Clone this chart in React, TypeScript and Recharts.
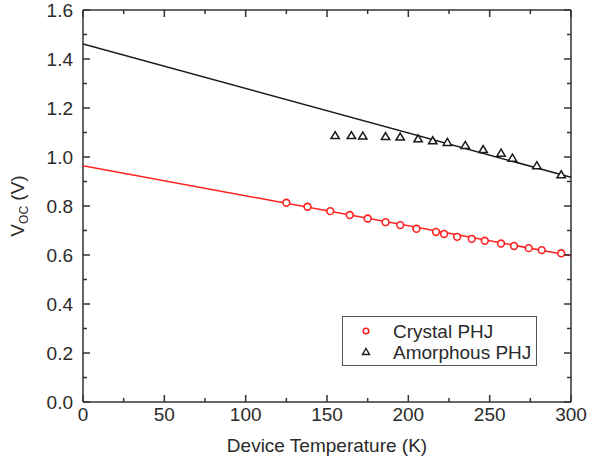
import React from "react";
import { ComposedChart, Scatter, XAxis, YAxis } from "recharts";

// Crystal PHJ (red circles)
const crystalT = [125, 138, 152, 164, 175, 186, 195, 205, 217, 222, 230, 239, 247, 257, 265, 274, 282, 294];
const crystalVoc = [0.813, 0.797, 0.779, 0.763, 0.749, 0.734, 0.722, 0.707, 0.694, 0.686, 0.674, 0.666, 0.658, 0.647, 0.637, 0.628, 0.62, 0.607];

// Amorphous PHJ (black triangles)
const amorphousT = [155, 165, 172, 186, 195, 206, 215, 224, 235, 246, 257, 264, 279, 294];
const amorphousVoc = [1.089, 1.089, 1.087, 1.085, 1.083, 1.076, 1.068, 1.061, 1.049, 1.032, 1.017, 0.997, 0.966, 0.929];

// linear fits
const fitT = [0, 300];
const crystalFit = [0.964, 0.597];
const amorphousFit = [1.461, 0.917];

const xMajorTicks = [0, 50, 100, 150, 200, 250, 300];
const xMinorTicks = [25, 75, 125, 175, 225, 275];
const yMajorTicks = [0, 0.2, 0.4, 0.6, 0.8, 1.0, 1.2, 1.4, 1.6];
const yMinorTicks = [0.1, 0.3, 0.5, 0.7, 0.9, 1.1, 1.3, 1.5];

const RED = "#ff2020";
const DARK = "#1a1a1a";
const AXIS = "#333";
const FONT = "'Liberation Sans', Arial, sans-serif";
const TEXT = "#2a2a2a";
const FS = 19;

const toPoints = (xs: number[], ys: number[]) => xs.map((t, i) => ({ t, v: ys[i] }));

const crystalData = toPoints(crystalT, crystalVoc);
const amorphousData = toPoints(amorphousT, amorphousVoc);
const crystalFitData = toPoints(fitT, crystalFit);
const amorphousFitData = toPoints(fitT, amorphousFit);

const xTicks = [...xMajorTicks, ...xMinorTicks].sort((a, b) => a - b);
const yTicks = [...yMajorTicks, ...yMinorTicks].sort((a, b) => a - b);
const isMajor = (list: number[], v: number) => list.some((m) => Math.abs(m - v) < 1e-6);

const BottomTick = (p: any) => {
  const major = isMajor(xMajorTicks, p.payload.value);
  return (
    <g>
      <line x1={p.x} y1={p.y} x2={p.x} y2={p.y - (major ? 7 : 4)} stroke={AXIS} strokeWidth={1.5} />
      {major && (
        <text x={p.x} y={p.y + 19} textAnchor="middle" fontSize={FS} fontFamily={FONT} fill={TEXT}>
          {p.payload.value}
        </text>
      )}
    </g>
  );
};

const TopTick = (p: any) => {
  const major = isMajor(xMajorTicks, p.payload.value);
  return <line x1={p.x} y1={p.y} x2={p.x} y2={p.y + (major ? 7 : 4)} stroke={AXIS} strokeWidth={1.5} />;
};

const LeftTick = (p: any) => {
  const major = isMajor(yMajorTicks, p.payload.value);
  return (
    <g>
      <line x1={p.x} y1={p.y} x2={p.x + (major ? 7 : 4)} y2={p.y} stroke={AXIS} strokeWidth={1.5} />
      {major && (
        <text x={p.x - 10} y={p.y + 7} textAnchor="end" fontSize={FS} fontFamily={FONT} fill={TEXT}>
          {Number(p.payload.value).toFixed(1)}
        </text>
      )}
    </g>
  );
};

const RightTick = (p: any) => {
  const major = isMajor(yMajorTicks, p.payload.value);
  return <line x1={p.x} y1={p.y} x2={p.x - (major ? 7 : 4)} y2={p.y} stroke={AXIS} strokeWidth={1.5} />;
};

const YTitle = (p: any) => {
  const vb = p.viewBox;
  const cx = vb.x + 3;
  const cy = vb.y + vb.height / 2;
  return (
    <text transform={`translate(${cx},${cy}) rotate(-90)`} textAnchor="middle" fontSize={FS} fontFamily={FONT} fill={TEXT}>
      V<tspan fontSize={12} dy={4}>OC</tspan>
      <tspan dy={-4}> (V)</tspan>
    </text>
  );
};

const XTitle = (p: any) => {
  const vb = p.viewBox;
  return (
    <text x={vb.x + vb.width / 2} y={vb.y + 50} textAnchor="middle" fontSize={FS} fontFamily={FONT} fill={TEXT}>
      Device Temperature (K)
    </text>
  );
};

const CircleMark = (p: any) => (
  <circle cx={p.cx} cy={p.cy} r={3.4} fill="#fff" stroke={RED} strokeWidth={1.6} />
);

const TriMark = (p: any) => (
  <path
    d={`M${p.cx},${p.cy - 3.6} L${p.cx + 4.2},${p.cy + 3.4} L${p.cx - 4.2},${p.cy + 3.4} Z`}
    fill="#fff"
    stroke={DARK}
    strokeWidth={1.5}
  />
);

const NoMark = () => <g />;

export default function App() {
  return (
    <div style={{ position: "absolute", left: 0, top: 0, width: 596, height: 461, background: "#fff" }}>
      <ComposedChart width={596} height={461} margin={{ top: 9, right: 24, bottom: 4, left: 21 }}>
        <XAxis
          dataKey="t"
          type="number"
          domain={[0, 300]}
          allowDataOverflow
          ticks={xTicks}
          interval={0}
          tick={<BottomTick />}
          tickLine={false}
          tickSize={0}
          tickMargin={0}
          height={55}
          axisLine={{ stroke: AXIS, strokeWidth: 1.5 }}
          label={<XTitle />}
        />
        <XAxis
          xAxisId="top"
          orientation="top"
          dataKey="t"
          type="number"
          domain={[0, 300]}
          allowDataOverflow
          ticks={xTicks}
          interval={0}
          tick={<TopTick />}
          tickLine={false}
          tickSize={0}
          tickMargin={0}
          height={1}
          axisLine={{ stroke: AXIS, strokeWidth: 1.5 }}
        />
        <YAxis
          dataKey="v"
          type="number"
          domain={[0, 1.6]}
          allowDataOverflow
          ticks={yTicks}
          interval={0}
          tick={<LeftTick />}
          tickLine={false}
          tickSize={0}
          tickMargin={0}
          width={62}
          axisLine={{ stroke: AXIS, strokeWidth: 1.5 }}
          label={<YTitle />}
        />
        <YAxis
          yAxisId="right"
          orientation="right"
          dataKey="v"
          type="number"
          domain={[0, 1.6]}
          allowDataOverflow
          ticks={yTicks}
          interval={0}
          tick={<RightTick />}
          tickLine={false}
          tickSize={0}
          tickMargin={0}
          width={1}
          axisLine={{ stroke: AXIS, strokeWidth: 1.5 }}
        />
        <Scatter
          name="Amorphous fit"
          data={amorphousFitData}
          line={{ stroke: DARK, strokeWidth: 1.5 }}
          shape={<NoMark />}
          isAnimationActive={false}
        />
        <Scatter
          name="Crystal fit"
          data={crystalFitData}
          line={{ stroke: RED, strokeWidth: 1.5 }}
          shape={<NoMark />}
          isAnimationActive={false}
        />
        <Scatter name="Amorphous PHJ" data={amorphousData} shape={<TriMark />} isAnimationActive={false} />
        <Scatter name="Crystal PHJ" data={crystalData} shape={<CircleMark />} isAnimationActive={false} />
      </ComposedChart>

      <svg width={195} height={50} style={{ position: "absolute", left: 342, top: 316 }}>
        <rect x={0.5} y={0.5} width={194} height={49} fill="#fff" stroke="#555" strokeWidth={1} />
        <circle cx={24} cy={15} r={2.8} fill="#fff" stroke={RED} strokeWidth={1.5} />
        <text x={51} y={22} fontSize={FS} fontFamily={FONT} fill={TEXT}>
          Crystal PHJ
        </text>
        <path d="M24,32.5 L27.5,38.5 L20.5,38.5 Z" fill="#fff" stroke={DARK} strokeWidth={1.4} />
        <text x={51} y={43} fontSize={FS} fontFamily={FONT} fill={TEXT}>
          Amorphous PHJ
        </text>
      </svg>
    </div>
  );
}
